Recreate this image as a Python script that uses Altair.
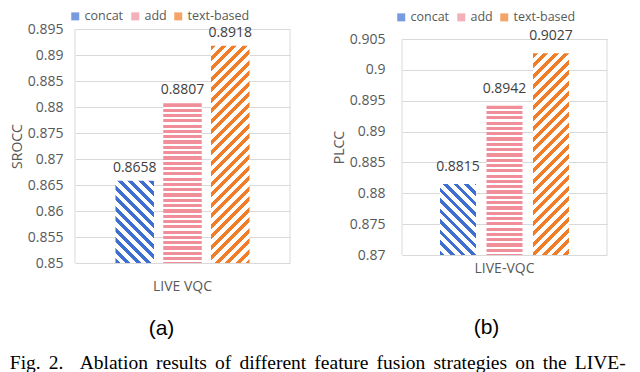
import altair as alt
import pandas as pd

series = ["concat", "add", "text-based"]
srocc = [0.8658, 0.8807, 0.8918]
plcc = [0.8815, 0.8942, 0.9027]
cat_a = "LIVE VQC"
cat_b = "LIVE-VQC"
srocc_ticks = [0.85, 0.855, 0.86, 0.865, 0.87, 0.875, 0.88, 0.885, 0.89, 0.895]
plcc_ticks = [0.87, 0.875, 0.88, 0.885, 0.89, 0.895, 0.9, 0.905]
colors = ["#3F6FD1", "#F08E9A", "#F07D2A"]
caption = "Fig. 2.  Ablation results of different feature fusion strategies on the LIVE-"

FONT = "Open Sans"
GRID = "#D9D9D9"
LABEL = "#595959"


def stripes(color, n, duty):
    stops = []
    k = 0
    while k / n < 1:
        a = k / n
        b = min((k + duty) / n, 1)
        c = min((k + 1) / n, 1)
        stops += [{"offset": a, "color": color}, {"offset": b, "color": color}]
        if b < 1:
            stops += [{"offset": b, "color": "#FFFFFF"}, {"offset": c, "color": "#FFFFFF"}]
        k += 1
    return stops


def grad_back(color, w, h, pitch, duty):
    # "\" stripes
    s = (w + h) / (w * w + h * h)
    n = (w + h) / pitch
    return {"gradient": "linear", "stops": stripes(color, n, duty),
            "x1": 0, "y1": 1, "x2": w * s, "y2": 1 - h * s}


def grad_fwd(color, w, h, pitch, duty):
    # "/" stripes
    s = (w + h) / (w * w + h * h)
    n = (w + h) / pitch
    return {"gradient": "linear", "stops": stripes(color, n, duty),
            "x1": 0, "y1": 0, "x2": w * s, "y2": h * s}


def grad_horiz(color, h, pitch, duty):
    n = h / pitch
    return {"gradient": "linear", "stops": stripes(color, n, duty),
            "x1": 0, "y1": 0, "x2": 0, "y2": 1}


def panel(values, cat, ticks, ylabel, W, H, top, po, pi, xlabpad, ylabpad, ytitlepad,
          dy, legx, legy, xtitle, tx, ty):
    # top: empty space above the plotting frame inside the view
    df = pd.DataFrame({"cat": [cat] * 3, "series": series, "value": values})
    lo, hi = ticks[0], ticks[-1]
    VH = H + top
    band = W / (1 + 2 * po)
    step = band / (3 - pi)
    bw = step * (1 - pi)
    hs = [(v - lo) / (hi - lo) * H for v in values]
    fills = [
        grad_back(colors[0], bw, hs[0], 10.5, 0.45),
        grad_horiz(colors[1], hs[1], 5.3, 0.6),
        grad_fwd(colors[2], bw, hs[2], 10.5, 0.5),
    ]
    yscale = alt.Scale(domain=[lo, hi], zero=False, nice=False, range=[VH, top])
    yaxis = alt.Axis(values=ticks, format=".3~f", grid=True, gridColor=GRID,
                     ticks=False, domain=False, labelPadding=ylabpad,
                     labelFont=FONT, labelFontSize=14, labelColor=LABEL,
                     title=ylabel, titleFont=FONT, titleFontSize=14,
                     titleFontWeight="normal", titleColor=LABEL,
                     titlePadding=ytitlepad, labelOverlap=False)
    base = alt.Chart(df).encode(
        x=alt.X("cat:N", scale=alt.Scale(paddingOuter=po, paddingInner=0),
                axis=alt.Axis(labelAngle=0, ticks=False, domain=False, grid=False,
                              labelPadding=xlabpad, labelFont=FONT, labelFontSize=14,
                              labelColor=LABEL, title=xtitle, titleFont="Liberation Sans",
                              titleFontSize=21, titleFontWeight="normal", titleColor="#000000",
                              titleX=tx, titleY=ty, titleBaseline="middle", titleAlign="center")),
        xOffset=alt.XOffset("series:N", sort=series,
                            scale=alt.Scale(paddingInner=pi, paddingOuter=0)),
        y=alt.Y("value:Q", scale=yscale, axis=yaxis, title=ylabel),
    )
    layers = []
    for s, f in zip(series, fills):
        layers.append(
            base.transform_filter(alt.datum.series == s)
            .mark_bar(fill=f, strokeWidth=0)
            .encode(y2=alt.Y2(datum=lo))
        )
    one = pd.DataFrame({"k": [0]})
    frame = [
        alt.Chart(one).mark_rule(color=GRID, strokeWidth=1).encode(
            x=alt.value(xx),
            y=alt.Y(datum=lo, scale=yscale, axis=yaxis, title=ylabel),
            y2=alt.Y2(datum=hi))
        for xx in (0, W)
    ]
    labels = base.mark_text(dy=-dy, fontSize=14, font=FONT, color="#404040").encode(
        text=alt.Text("value:Q", format=".4f"))
    legend = alt.Chart(df).transform_filter("false").mark_square().encode(
        color=alt.Color("series:N", sort=series,
                        scale=alt.Scale(domain=series, range=colors),
                        legend=alt.Legend(orient="none", legendX=legx, legendY=legy,
                                          direction="horizontal", title=None,
                                          symbolType="square", symbolSize=64,
                                          symbolStrokeWidth=0, labelFont=FONT,
                                          labelFontSize=12.5, labelColor=LABEL,
                                          columnPadding=5, labelOffset=3)))
    return alt.layer(*layers, labels, legend, *frame).properties(
        width=W, height=VH, view=alt.ViewBackground(stroke="transparent"))


pa = panel(srocc, cat_a, srocc_ticks, "SROCC", 215, 234, 0, 0.302, 0.194,
           16, 12, 3, 13, -6, -19, "(a)", 86, 65)
pb = panel(plcc, cat_b, plcc_ticks, "PLCC", 205, 216, 10, 0.2946, 0.226,
           6, 17, 3, 17, -7, -18, "(b)", 84, 72)

caption_text = caption.replace(" ", "\u2005\u2006")

chart = alt.hconcat(pa, pb, spacing=40).resolve_scale(
    color="independent", x="independent", y="independent", xOffset="independent"
).properties(
    padding={"left": 1, "top": 1, "right": 0, "bottom": 0},
    title=alt.TitleParams(caption_text, orient="bottom", anchor="start",
                          font="Liberation Serif", fontSize=19.5, fontWeight="normal",
                          color="#000000", offset=15),
).configure(background="white")

chart.save("out.html", embed_options={"renderer": "svg", "actions": False})
